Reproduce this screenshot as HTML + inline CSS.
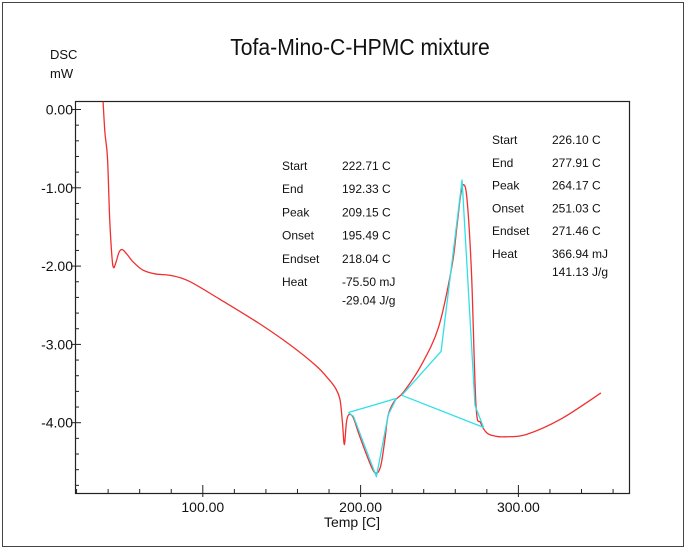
<!DOCTYPE html>
<html><head><meta charset="utf-8"><style>
body{margin:0;background:#fff;}
svg{display:block;font-family:"Liberation Sans",sans-serif;}
</style></head><body>
<svg id="c" width="687" height="550" viewBox="0 0 687 550">
<rect x="2.5" y="2.5" width="681" height="544" fill="none" stroke="#444" stroke-width="1"/>
<text x="360" y="55" font-size="23" text-anchor="middle" fill="#111" transform="translate(360 0) scale(0.92 1) translate(-360 0)">Tofa-Mino-C-HPMC mixture</text>
<text x="50" y="59" font-size="13" fill="#111">DSC</text>
<text x="50" y="78" font-size="13" fill="#111">mW</text>
<rect x="75.5" y="101.5" width="554" height="392" fill="none" stroke="#222" stroke-width="1.2"/>
<g id="ticks"></g>
<g id="marks"></g>
<text x="352" y="527" font-size="14" text-anchor="middle" fill="#111">Temp  [C]</text>
<g font-size="12" fill="#111" id="ann1"></g>
<g font-size="12" fill="#111" id="ann2"></g>
</svg>
<script>
const temps=[36.8,38.0,39.6,41.0,42.5,43.5,45.0,47.0,49.0,52.0,56.0,62.0,70.0,80.0,91.0,110.5,135.5,154.9,171.6,180.0,184.1,186.9,188.5,189.7,191.0,192.4,195.2,199.0,203.6,207.0,209.1,211.5,213.3,215.5,217.5,221.6,227.2,238.3,249.4,257.8,261.0,263.3,265.3,267.5,270.3,273.1,276.0,280.0,285.0,291.1,305.0,327.2,352.3];
const dsc=[0.1,-0.3,-0.62,-1.4,-1.9,-2.02,-1.95,-1.82,-1.79,-1.85,-1.95,-2.05,-2.1,-2.12,-2.19,-2.42,-2.73,-3.00,-3.27,-3.45,-3.56,-3.70,-4.0,-4.28,-4.0,-3.90,-3.93,-4.15,-4.40,-4.57,-4.64,-4.62,-4.50,-4.2,-3.90,-3.72,-3.61,-3.27,-2.78,-2.01,-1.5,-1.11,-0.96,-1.16,-2.10,-3.77,-4.0,-4.13,-4.17,-4.18,-4.15,-3.95,-3.62];
const cyanT=[192.3,195.5,210.0,217.5,222.7];
const cyanV=[-3.87,-3.92,-4.69,-3.90,-3.69];
const base1T=[192.3,222.7];
const base1V=[-3.87,-3.69];
const cyan2T=[226.1,251.0,264.3,272.5,277.9];
const cyan2V=[-3.65,-3.09,-0.90,-3.78,-4.06];
const base2T=[226.1,277.9];
const base2V=[-3.65,-4.06];
const xTicks=[100,200,300];
const xTickLabels=["100.00","200.00","300.00"];
const yTicks=[0,-1,-2,-3,-4];
const yTickLabels=["0.00","-1.00","-2.00","-3.00","-4.00"];
const ann1Labels=["Start","End","Peak","Onset","Endset","Heat",""];
const ann1Values=["222.71 C","192.33 C","209.15 C","195.49 C","218.04 C","-75.50 mJ","-29.04 J/g"];
const ann2Labels=["Start","End","Peak","Onset","Endset","Heat",""];
const ann2Values=["226.10 C","277.91 C","264.17 C","251.03 C","271.46 C","366.94 mJ","141.13 J/g"];
const NS="http://www.w3.org/2000/svg";
const X=t=>45+t*1.578, Y=v=>109.5-v*78.3;
function mk(tag,attrs,parent){const e=document.createElementNS(NS,tag);for(const k in attrs)e.setAttribute(k,attrs[k]);parent.appendChild(e);return e;}
const tk=document.getElementById('ticks');
for(let t=20;t<=360;t+=20){const x=X(t);if(x<76||x>629)continue;const major=t%100===0;
 const l=mk('line',{x1:x,x2:x,y1:major?497:493,y2:major?485:489,stroke:'#222','stroke-width':1},tk);
 }
for(let v=0.8;v>=-4.9;v-=0.2){const y=Y(v);if(y<102||y>493)continue;const major=Math.abs(v-Math.round(v))<0.01;
 const l=mk('line',{x1:major?71:75,x2:major?81:79,y1:y,y2:y,stroke:'#222','stroke-width':1},tk);
 }
xTicks.forEach((t,i)=>{const e=mk('text',{x:X(t),y:512,'font-size':14,'text-anchor':'middle',fill:'#111'},tk);e.textContent=xTickLabels[i];
 });
yTicks.forEach((v,i)=>{const e=mk('text',{x:73,y:Y(v)+5,'font-size':14,'text-anchor':'end',fill:'#111'},tk);e.textContent=yTickLabels[i];
 });
const mg=document.getElementById('marks');
function smooth(T,V){const P=T.map((t,i)=>[X(t),Y(V[i])]);let d='M'+P[0][0]+','+P[0][1];
 for(let i=0;i<P.length-1;i++){const p0=P[i-1]||P[i],p1=P[i],p2=P[i+1],p3=P[i+2]||p2;
  const c1=[p1[0]+(p2[0]-p0[0])/6,p1[1]+(p2[1]-p0[1])/6],c2=[p2[0]-(p3[0]-p1[0])/6,p2[1]-(p3[1]-p1[1])/6];
  d+=' C'+c1.join(',')+' '+c2.join(',')+' '+p2.join(',');}return d;}
const cp=mk('path',{d:smooth(temps,dsc),fill:'none',stroke:'#f03030','stroke-width':1.3},mg);


function line(T,V,col,name){const p=mk('polyline',{points:T.map((t,i)=>X(t)+','+Y(V[i])).join(' '),fill:'none',stroke:col,'stroke-width':1.3,'stroke-linejoin':'round'},mg);
 }
line(cyanT,cyanV,'#30e0e8','peak1-fit');
line(base1T,base1V,'#30e0e8','peak1-baseline');
line(cyan2T,cyan2V,'#30e0e8','peak2-fit');
line(base2T,base2V,'#30e0e8','peak2-baseline');
function ann(id,L,V,x1,x2,y0,dy){const g=document.getElementById(id);
 L.forEach((s,i)=>{const y=y0+i*dy-(i===6?dy*0.2:0);
  if(s){const a=mk('text',{x:x1,y:y},g);a.textContent=s;}
  const b=mk('text',{x:x2,y:y},g);b.textContent=V[i];});}
ann('ann1',ann1Labels,ann1Values,282,342,170,23.2);
ann('ann2',ann2Labels,ann2Values,492,552,144,22.8);
</script>
</body></html>
